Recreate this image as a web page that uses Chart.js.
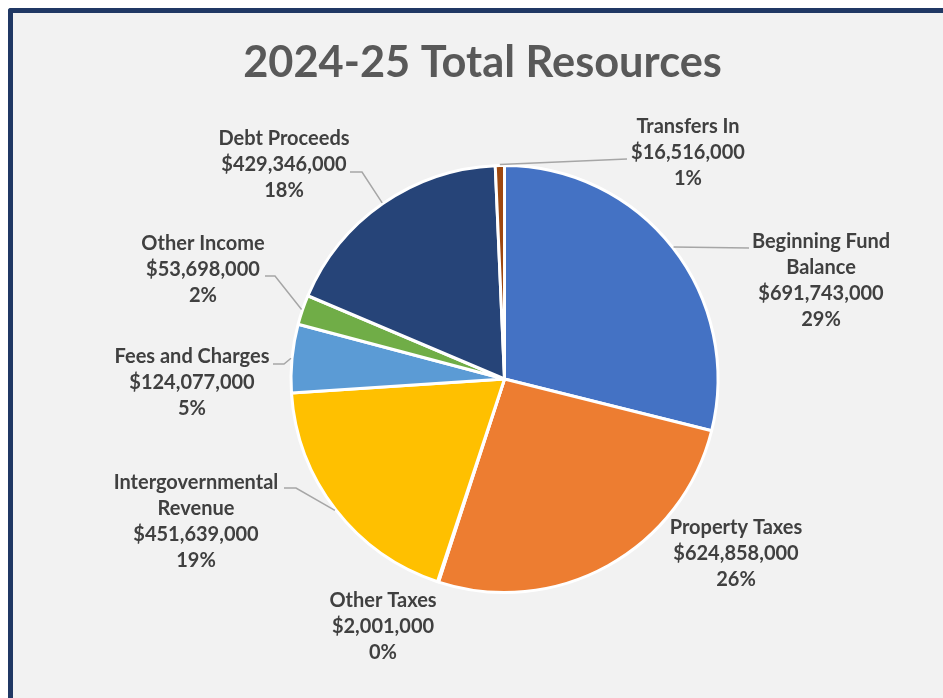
<!DOCTYPE html>
<html>
<head>
<meta charset="utf-8">
<script src="https://cdn.jsdelivr.net/npm/chart.js@4.4.1/dist/chart.umd.min.js"></script>
<style>
  html, body { margin: 0; padding: 0; background: #ffffff; overflow: hidden; }
  #frame {
    position: absolute; left: 8px; top: 8px; width: 960px; height: 720px;
    background: #f2f2f2; border-left: 5px solid #203864; border-top: 5px solid #203864;
    border-top-left-radius: 3px;
  }
  #wrap { position: absolute; left: 0; top: 0; width: 943px; height: 698px; }
</style>
</head>
<body>
<div id="frame"></div>
<div id="wrap"><canvas id="chart-resources"></canvas></div>
<script>
// 2024-25 Total Resources — pie with Excel-style callout labels

const chartTitle = "2024-25 Total Resources";

const categories = [
  ["Beginning Fund", "Balance"],
  ["Property Taxes"],
  ["Other Taxes"],
  ["Intergovernmental", "Revenue"],
  ["Fees and Charges"],
  ["Other Income"],
  ["Debt Proceeds"],
  ["Transfers In"]
];

const amounts = [691743000, 624858000, 2001000, 451639000, 124077000, 53698000, 429346000, 16516000];

const sliceColors = ["#4472C4", "#ED7D31", "#A5A5A5", "#FFC000", "#5B9BD5", "#70AD47", "#264478", "#9E480E"];

// label placement: text centre x, first line centre y, leader line points (null = no leader)
const labelLayout = [
  { x: 821, y: 242, leader: [[749, 248]] },
  { x: 736, y: 528, leader: null },
  { x: 383, y: 601, leader: null },
  { x: 196, y: 483, leader: [[296, 488], [284, 488]] },
  { x: 192, y: 357, leader: [[284, 364], [273, 364]] },
  { x: 203, y: 244, leader: [[275, 276], [265, 276]] },
  { x: 284, y: 139, leader: [[362, 172], [350, 172]] },
  { x: 688, y: 127, leader: [[627, 159]] }
];

const total = amounts.reduce((a, b) => a + b, 0);
const fmtMoney = v => "$" + v.toLocaleString("en-US");
const fmtPct   = v => Math.round(v / total * 100) + "%";

const labelFont  = "bold 20px Lato, 'Open Sans', sans-serif";
const labelColor = "#404040";
const lineH      = 25.7;

const calloutPlugin = {
  id: "callouts",
  afterDatasetsDraw(chart) {
    const ctx  = chart.ctx;
    const arcs = chart.getDatasetMeta(0).data;
    ctx.save();

    // title
    let size = 48;
    ctx.font = `bold ${size}px Lato, 'Open Sans', sans-serif`;
    const w = ctx.measureText(chartTitle).width;
    size = size * 479 / w;
    ctx.font = `bold ${size}px Lato, 'Open Sans', sans-serif`;
    ctx.fillStyle = "#595959";
    ctx.textAlign = "center";
    ctx.textBaseline = "alphabetic";
    ctx.fillText(chartTitle, 482.5, 77);

    // leader lines
    ctx.strokeStyle = "#a6a6a6";
    ctx.lineWidth = 1.5;
    arcs.forEach((arc, i) => {
      const lay = labelLayout[i];
      if (!lay.leader) return;
      const mid = (arc.startAngle + arc.endAngle) / 2;
      const r   = arc.outerRadius + 1;
      ctx.beginPath();
      ctx.moveTo(arc.x + Math.cos(mid) * r, arc.y + Math.sin(mid) * r);
      lay.leader.forEach(p => ctx.lineTo(p[0], p[1]));
      ctx.stroke();
    });

    // label text
    ctx.font = labelFont;
    ctx.fillStyle = labelColor;
    ctx.textBaseline = "middle";
    categories.forEach((name, i) => {
      const lay   = labelLayout[i];
      const lines = [...name, fmtMoney(amounts[i]), fmtPct(amounts[i])];
      lines.forEach((t, k) => ctx.fillText(t, lay.x, lay.y + k * lineH));
    });

    ctx.restore();
  }
};

new Chart(document.getElementById("chart-resources"), {
  type: "pie",
  data: {
    labels: categories.map(c => c.join(" ")),
    datasets: [{
      data: amounts,
      backgroundColor: sliceColors,
      borderColor: "#ffffff",
      borderWidth: 3
    }]
  },
  options: {
    responsive: true,
    maintainAspectRatio: false,
    animation: false,
    layout: { padding: { top: 164, bottom: 104, left: 203.5, right: 137.5 } },
    plugins: {
      legend: { display: false },
      tooltip: { enabled: false }
    }
  },
  plugins: [calloutPlugin]
});
</script>
</body>
</html>
